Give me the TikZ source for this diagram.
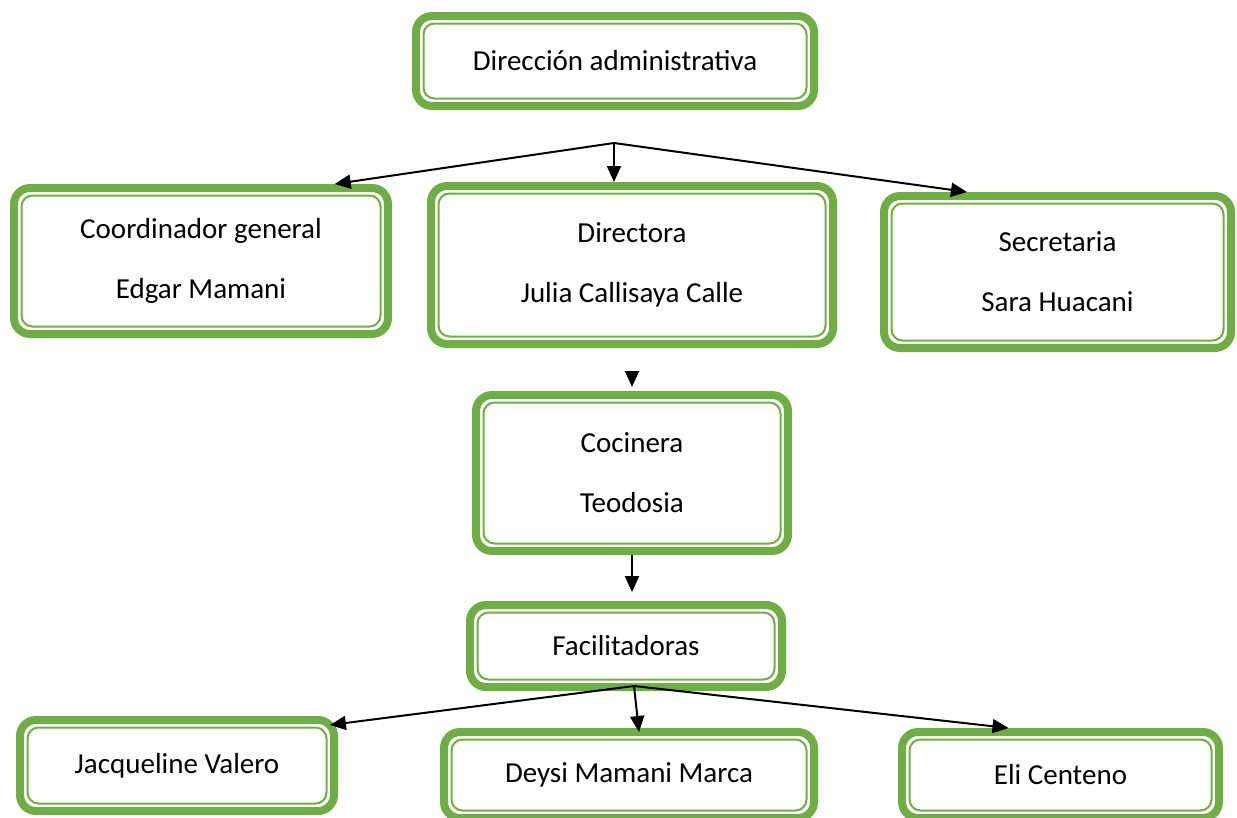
\documentclass[tikz,border=0pt]{standalone}
\usepackage{fontspec}
\setmainfont{Carlito}
\usetikzlibrary{arrows.meta,calc}
\definecolor{verde}{HTML}{70AD47}

\begin{document}
\begin{tikzpicture}[x=1pt,y=-1pt]
        \tikzstyle{every node}=[font=\fontsize{29}{60}\selectfont, align=center, inner sep=0pt]
        \tikzstyle{cargo}=[draw=verde, line width=8pt, rounded corners=16pt,
            path picture={\draw[verde, line width=2pt, rounded corners=11pt]
                ([shift={(7.5pt,7.5pt)}]path picture bounding box.south west) rectangle
                ([shift={(-7.5pt,-7.5pt)}]path picture bounding box.north east);}]
        \tikzstyle{flecha}=[-{Triangle[length=16pt,width=14pt]}, line width=2pt]

        \useasboundingbox (0,0) rectangle (1237,817);

        \node[cargo, minimum width=398pt, minimum height=90pt]  (direccion)     at (615,61)     {Dirección administrativa};
        \node[cargo, minimum width=374pt, minimum height=146pt] (coordinador)   at (201,261)    {Coordinador general\\Edgar Mamani};
        \node[cargo, minimum width=402pt, minimum height=158pt] (directora)     at (632,265)    {Directora\\Julia Callisaya Calle};
        \node[cargo, minimum width=347pt, minimum height=152pt] (secretaria)    at (1057.5,272) {Secretaria\\Sara Huacani};
        \node[cargo, minimum width=312pt, minimum height=156pt] (cocinera)      at (632,473)    {Cocinera\\Teodosia};
        \node[cargo, minimum width=312pt, minimum height=82pt]  (facilitadoras) at (626,646)    {Facilitadoras};
        \node[cargo, minimum width=314pt, minimum height=91pt]  (jacqueline)    at (177,765.5)  {Jacqueline Valero};
        \node[cargo, minimum width=370pt, minimum height=86pt]  (deysi)         at (629,775)    {Deysi Mamani Marca};
        \node[cargo, minimum width=317pt, minimum height=86pt]  (eli)           at (1060.5,775) {Eli Centeno};

        \coordinate (nudo)  at (614,143);
        \coordinate (nudo2) at (634,686);

        \draw[flecha] (nudo) -- ($(coordinador.north west)!0.85!(coordinador.north east)$);
        \draw[flecha] (nudo) -- (nudo |- directora.north);
        \draw[flecha] (nudo) -- ($(secretaria.north west)!0.245!(secretaria.north east)$);
        \draw[flecha, shorten <=25pt, shorten >=4pt] (directora.south) -- (cocinera.north);
        \draw[flecha, shorten >=9pt] (cocinera.south) -- (cocinera.south |- facilitadoras.north);
        \draw[flecha] (nudo2) -- ($(jacqueline.north west)!0.975!(jacqueline.north east)+(0,9)$);
        \draw[flecha] (nudo2) -- ($(deysi.north)+(10,4)$);
        \draw[flecha] (nudo2) -- ($(eli.north west)!0.34!(eli.north east)$);
\end{tikzpicture}
\end{document}
